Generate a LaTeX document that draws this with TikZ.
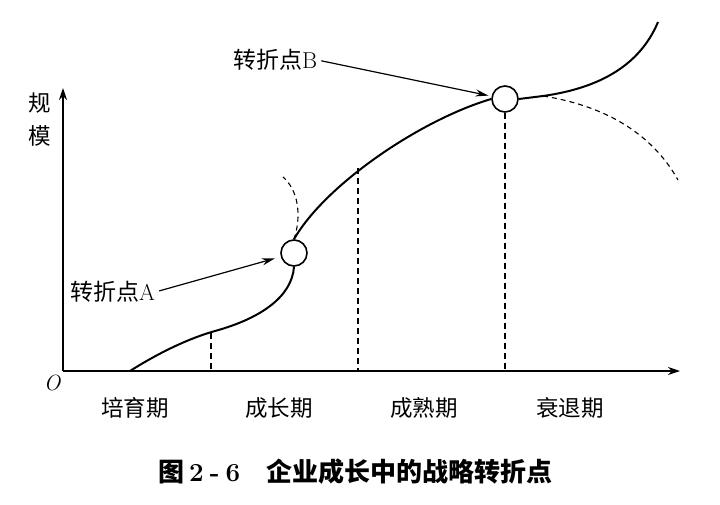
\documentclass[tikz,border=0pt]{standalone}
\usepackage{fontspec}
\newfontfamily\cjk{Noto Sans CJK SC}
\usetikzlibrary{arrows.meta}
\begin{document}
\begin{tikzpicture}[x=1pt,y=-1pt,
  axis/.style={line width=1.4pt,-{Stealth[length=12pt,width=8pt]}},
  curve/.style={line width=2pt},
  dcurve/.style={line width=1.1pt,dash pattern=on 5pt off 4pt},
  guide/.style={line width=1.2pt,dash pattern=on 6pt off 4pt},
  tp/.style={circle,draw,line width=1.6pt,minimum size=26pt,inner sep=0pt},
  lbl/.style={font=\fontsize{22}{24}\selectfont,inner sep=0pt},
  stage/.style={inner sep=0pt,font=\fontsize{22.5}{24}\selectfont\cjk},
  pointer/.style={line width=1.2pt,shorten <=4pt,-{Stealth[length=13pt,width=7pt]}}]
\useasboundingbox (0,0) rectangle (720,504);
\coordinate (O) at (63,371);
\coordinate (xe) at (680,371);
\coordinate (ye) at (63,88);
\draw[axis] (O) -- (xe);
\draw[axis] (O) -- (ye);
% turning points
\node[tp] (A) at (294,253) {};
\node[tp] (B) at (505,99) {};
% curve
\coordinate (s0) at (130,371);
\coordinate (s1) at (215,331);
\draw[curve] (s0) .. controls (160,352) and (190,338) .. (s1)
  .. controls (262,318) and (292,296) .. (A.south);
\draw[curve] (A.north) .. controls (325,185) and (420,120) .. (B.west);
\coordinate (c1) at (543,96);
\coordinate (c2) at (658,22);
\draw[curve] (B.east) -- (c1) .. controls (600,88) and (640,65) .. (c2);
% alternative dashed paths
\coordinate (dA) at (283,177);
\draw[dcurve] (A.north) .. controls (302,215) and (298,190) .. (dA);
\coordinate (dB) at (678,180);
\draw[dcurve] (c1) .. controls (600,105) and (650,130) .. (dB);
% guides
\coordinate (g1t) at (211,333); \coordinate (g1b) at (211,371);
\coordinate (g2t) at (358,168); \coordinate (g2b) at (358,371);
\draw[guide] (g1t) -- (g1b);
\draw[guide] (g2t) -- (g2b);
\draw[guide] (B.south) -- (B.south |- O);
% labels
\node[stage] (y1) at (40,103) {规};
\node[stage] (y2) at (40,136) {模};
\node[lbl,font=\fontsize{22}{24}\selectfont\itshape] (o) at (52,383) {O};
\node[stage] (p1) at (135,408) {培育期};
\node[stage] (p2) at (279,408) {成长期};
\node[stage] (p3) at (424,408) {成熟期};
\node[stage] (p4) at (570,408) {衰退期};
\node[lbl,anchor=west,font=\fontsize{23}{25}\selectfont] (la) at (70,292) {{\cjk 转折点}A};
\node[lbl,anchor=west,font=\fontsize{23}{25}\selectfont] (lb) at (233,60) {{\cjk 转折点}B};
\draw[pointer,shorten >=6pt] (la.east) -- (A);
\draw[pointer,shorten >=3pt] (lb.east) -- (B);
% caption
\node[anchor=west,inner sep=0pt,font=\fontsize{26}{28}\selectfont\bfseries] (cap) at (158,472)
  {{\cjk 图}\hspace{5pt}2\hspace{6pt}-\hspace{6pt}6\hspace{26pt}{\cjk 企业成长中的战略转折点}};
\end{tikzpicture}
\end{document}
